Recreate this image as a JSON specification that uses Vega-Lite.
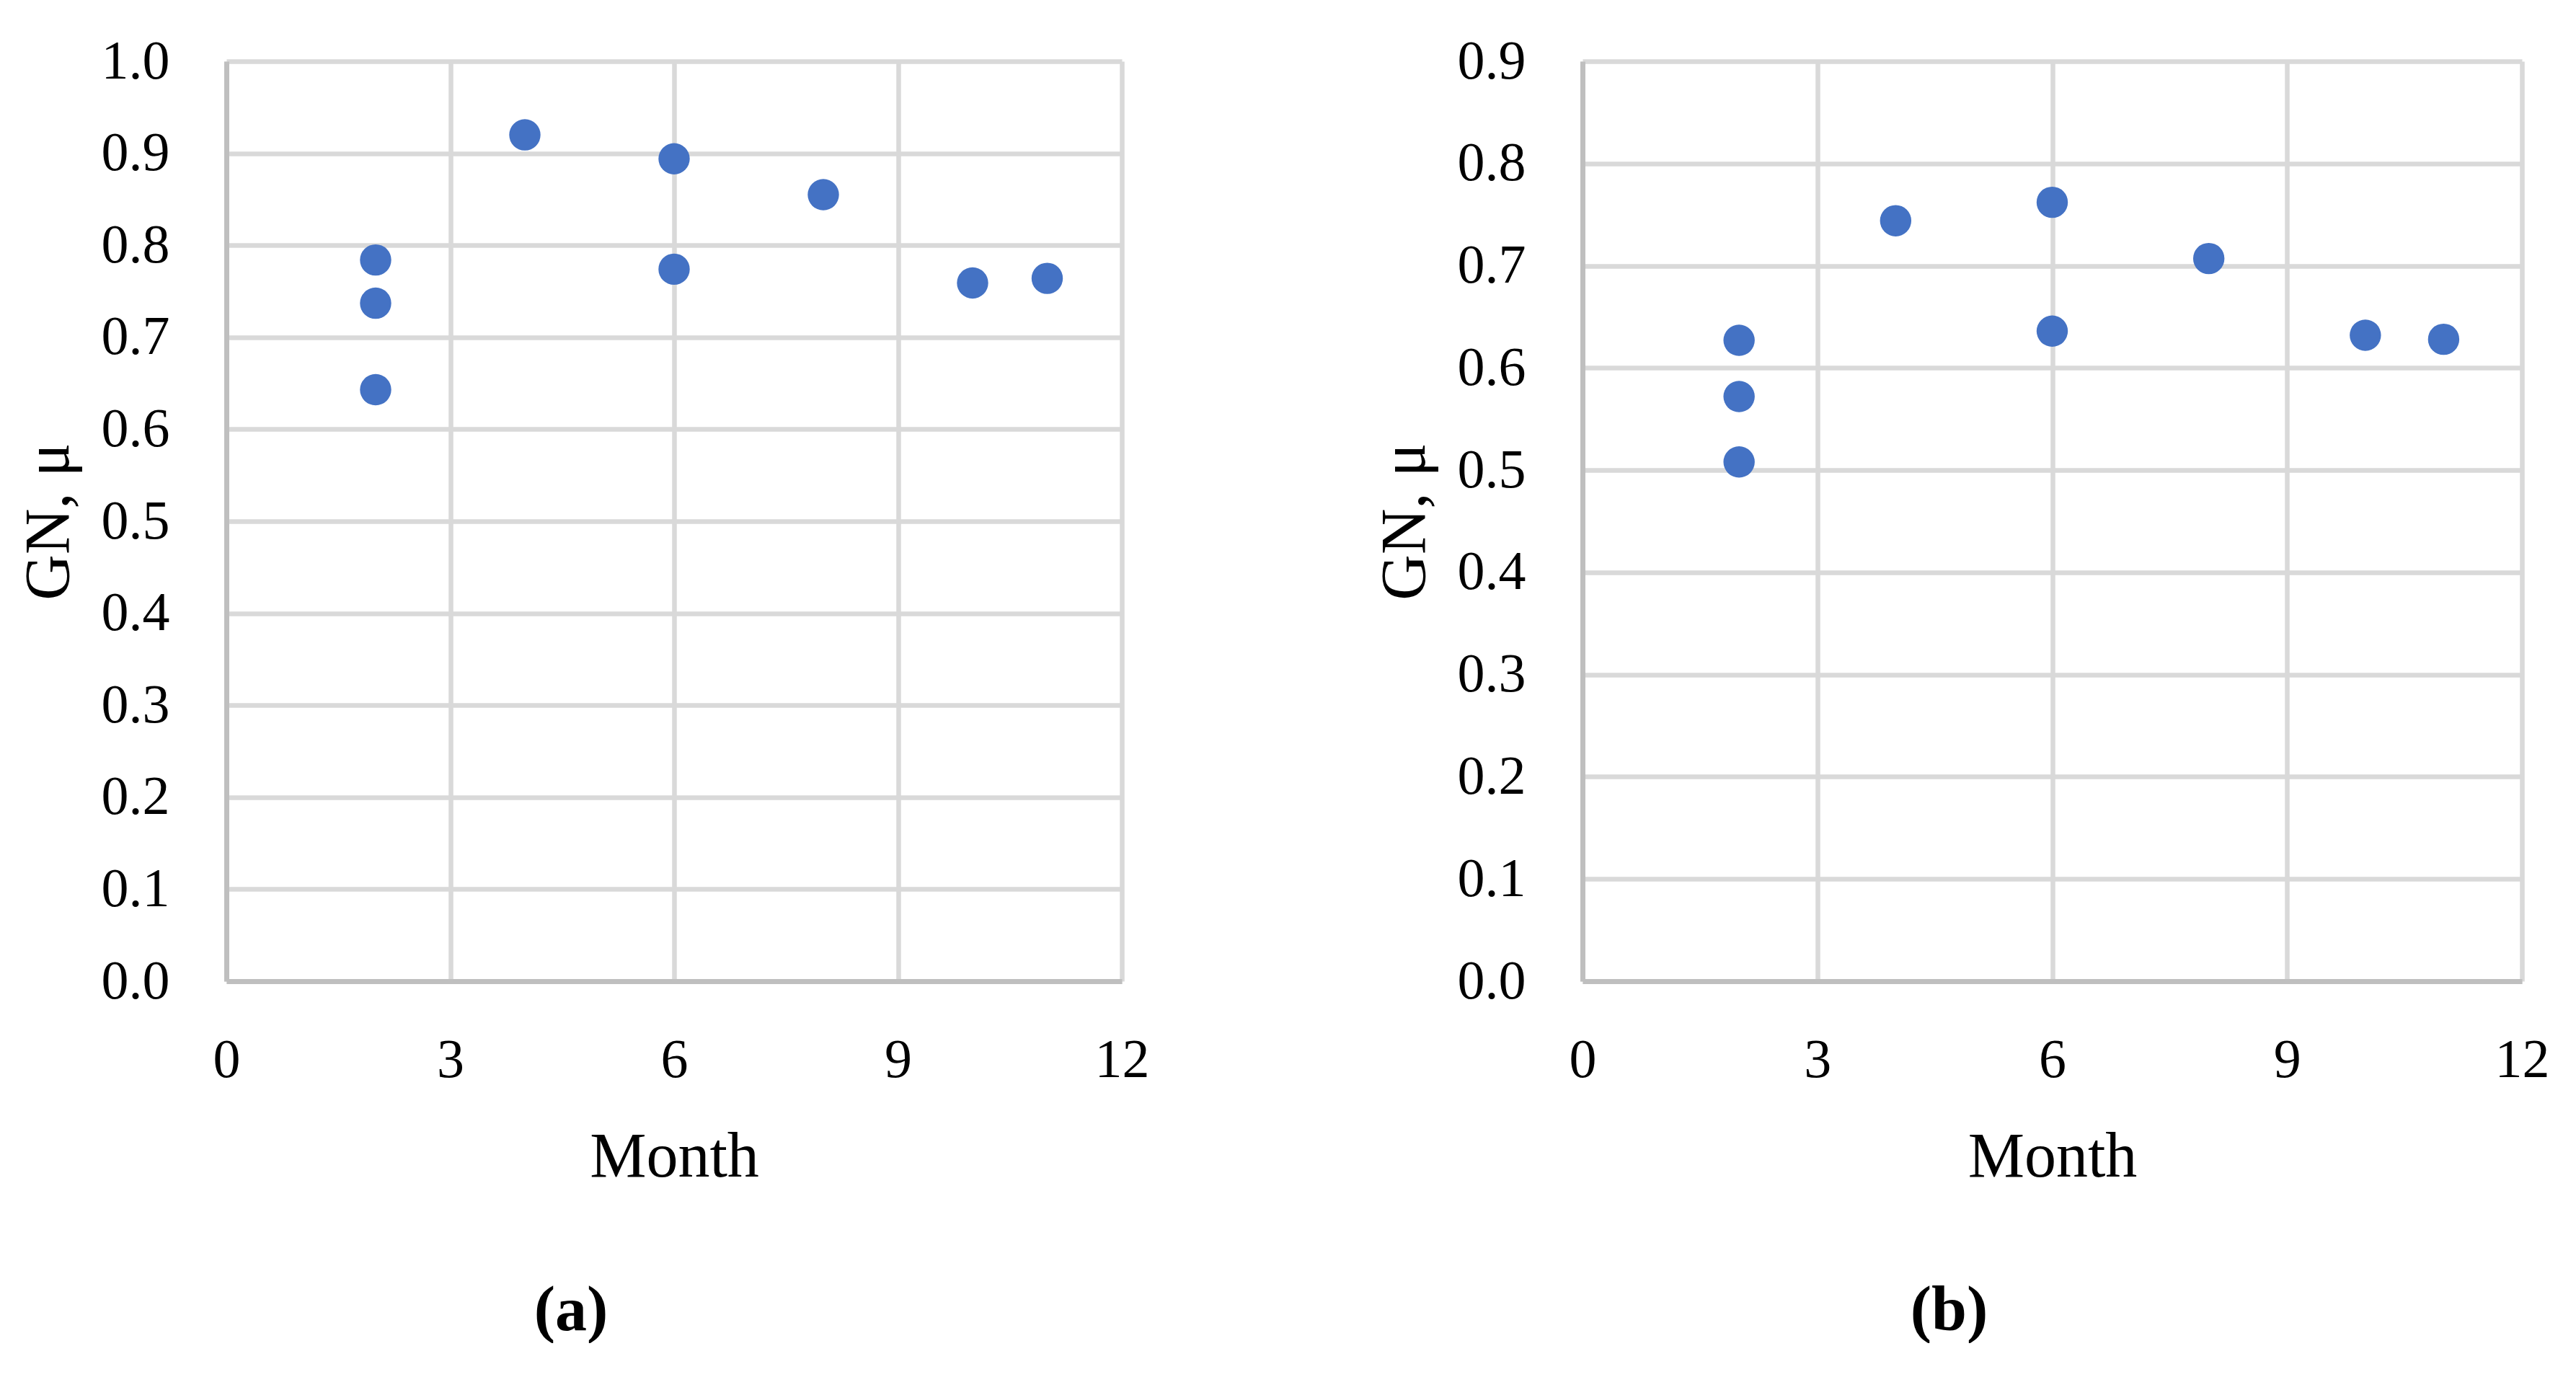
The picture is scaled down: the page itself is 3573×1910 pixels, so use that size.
{
  "$schema": "https://vega.github.io/schema/vega-lite/v6.json",
  "background": "white",
  "padding": {"left": 24, "top": 47, "right": 0, "bottom": 0},
  "spacing": 311,
  "config": {
    "view": {"stroke": null},
    "font": "Liberation Serif",
    "axis": {
      "labelFont": "Liberation Serif",
      "labelFontSize": 76,
      "labelColor": "black",
      "labelFlush": false,
      "titleFont": "Liberation Serif",
      "titleFontSize": 88,
      "titleFontWeight": "normal",
      "titleColor": "black",
      "gridColor": "#d9d9d9",
      "gridWidth": 6.5,
      "gridOpacity": 1,
      "domainColor": "#bfbfbf",
      "domainWidth": 7,
      "ticks": false,
      "tickSize": 0
    },
    "axisY": {"labelPadding": 79, "minExtent": 170, "maxExtent": 170, "titlePadding": 32},
    "axisX": {"labelPadding": 72, "titlePadding": 53},
    "title": {
      "font": "Liberation Serif",
      "fontSize": 88,
      "fontWeight": "bold",
      "orient": "bottom",
      "anchor": "middle",
      "frame": "bounds",
      "offset": 126,
      "dx": -17,
      "color": "black"
    }
  },
  "hconcat": [
    {
      "title": "(a)",
      "width": 1242,
      "height": 1276,
      "data": {"values": [
        {"month": 2, "gn": 0.784},
        {"month": 2, "gn": 0.737},
        {"month": 2, "gn": 0.643},
        {"month": 4, "gn": 0.920},
        {"month": 6, "gn": 0.894},
        {"month": 6, "gn": 0.774},
        {"month": 8, "gn": 0.855},
        {"month": 10, "gn": 0.759},
        {"month": 11, "gn": 0.764}
      ]},
      "mark": {"type": "point", "shape": "circle", "filled": true, "size": 1886, "opacity": 1, "color": "#4472C4"},
      "encoding": {
        "x": {"field": "month", "type": "quantitative", "title": "Month",
              "scale": {"domain": [0, 12], "nice": false},
              "axis": {"values": [0, 3, 6, 9, 12], "format": "d"}},
        "y": {"field": "gn", "type": "quantitative", "title": "GN, μ",
              "scale": {"domain": [0, 1], "nice": false},
              "axis": {"values": [0, 0.1, 0.2, 0.3, 0.4, 0.5, 0.6, 0.7, 0.8, 0.9, 1.0], "format": ".1f"}}
      }
    },
    {
      "title": "(b)",
      "width": 1303,
      "height": 1276,
      "data": {"values": [
        {"month": 2, "gn": 0.627},
        {"month": 2, "gn": 0.572},
        {"month": 2, "gn": 0.508},
        {"month": 4, "gn": 0.744},
        {"month": 6, "gn": 0.762},
        {"month": 6, "gn": 0.636},
        {"month": 8, "gn": 0.707},
        {"month": 10, "gn": 0.632},
        {"month": 11, "gn": 0.628}
      ]},
      "mark": {"type": "point", "shape": "circle", "filled": true, "size": 1886, "opacity": 1, "color": "#4472C4"},
      "encoding": {
        "x": {"field": "month", "type": "quantitative", "title": "Month",
              "scale": {"domain": [0, 12], "nice": false},
              "axis": {"values": [0, 3, 6, 9, 12], "format": "d"}},
        "y": {"field": "gn", "type": "quantitative", "title": "GN, μ",
              "scale": {"domain": [0, 0.9], "nice": false},
              "axis": {"values": [0, 0.1, 0.2, 0.3, 0.4, 0.5, 0.6, 0.7, 0.8, 0.9], "format": ".1f"}}
      }
    }
  ]
}
